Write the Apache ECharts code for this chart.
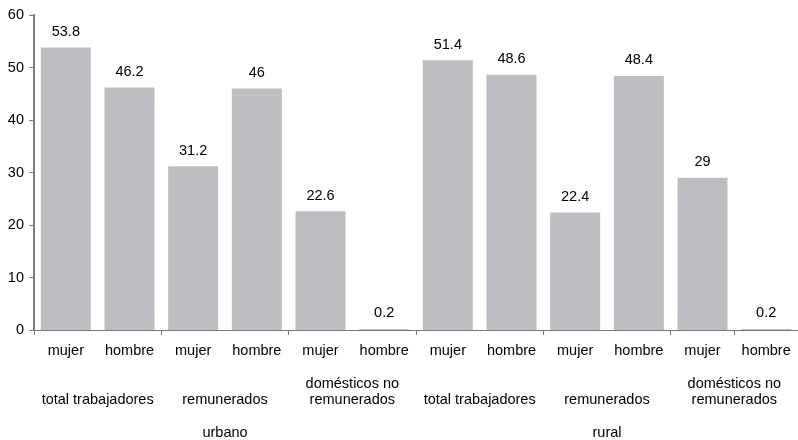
<!DOCTYPE html>
<html><head><meta charset="utf-8">
<script src="https://cdn.jsdelivr.net/npm/echarts@6/dist/echarts.min.js"></script>
<style>html,body{margin:0;padding:0;background:#fff}#c{width:798px;height:440px}</style>
</head><body><div id="c"></div>
<script>
const sexes = ['mujer','hombre','mujer','hombre','mujer','hombre','mujer','hombre','mujer','hombre','mujer','hombre'];
const groups = ['total trabajadores','remunerados','domésticos no\nremunerados','total trabajadores','remunerados','domésticos no\nremunerados'];
const areas = ['urbano','rural'];
const values = [53.8, 46.2, 31.2, 46, 22.6, 0.2, 51.4, 48.6, 22.4, 48.4, 29, 0.2];
const yTicks = {min:0, max:60, interval:10};

const font = 'Liberation Sans, Arial, sans-serif';
const fs = 14.5;
const chart = echarts.init(document.getElementById('c'), null, {renderer:'canvas'});
chart.setOption({
  animation:false,
  grid:{left:34, right:0, top:15, bottom:109, containLabel:false},
  xAxis:[
    {type:'category', data:sexes, position:'bottom',
     axisLine:{show:true, lineStyle:{color:'#7a7a7a', width:1}},
     axisTick:{show:true, interval:1, length:5, lineStyle:{color:'#7a7a7a'}},
     axisLabel:{interval:0, margin:13, fontSize:fs, color:'#000', fontFamily:font}},
    {type:'category', data:groups, position:'bottom',
     axisLine:{show:false}, axisTick:{show:false},
     axisLabel:{interval:0, margin:78, verticalAlign:'bottom', fontSize:fs, lineHeight:16, color:'#000', fontFamily:font}},
    {type:'category', data:areas, position:'bottom',
     axisLine:{show:false}, axisTick:{show:false},
     axisLabel:{interval:0, margin:95, fontSize:fs, color:'#000', fontFamily:font}}
  ],
  yAxis:{type:'value', min:yTicks.min, max:yTicks.max, interval:yTicks.interval,
     axisLine:{show:true, lineStyle:{color:'#7a7a7a', width:2}},
     axisTick:{show:true, length:5, lineStyle:{color:'#7a7a7a'}},
     splitLine:{show:false},
     axisLabel:{fontSize:fs, color:'#000', margin:10, fontFamily:font}},
  series:[{type:'bar', data:values, xAxisIndex:0, barWidth:50,
     itemStyle:{color:'#bebec2'},
     label:{show:true, position:'top', distance:8, fontSize:fs, color:'#000', fontFamily:font}}]
});
</script></body></html>
